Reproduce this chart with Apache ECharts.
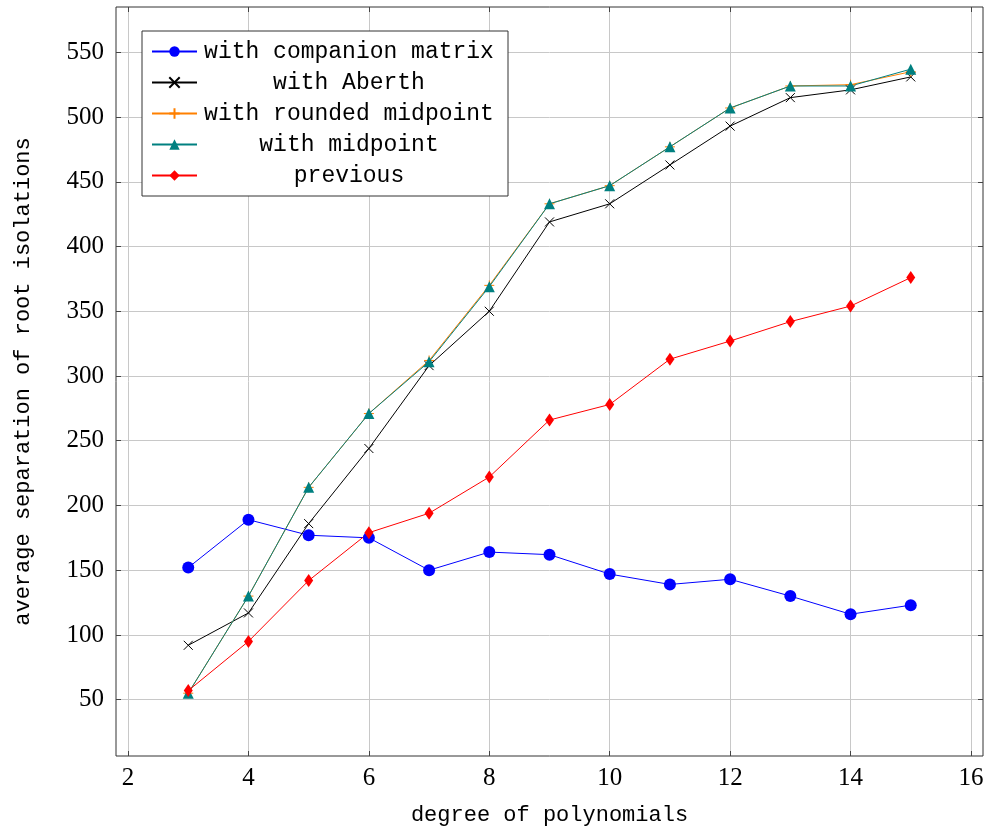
<!DOCTYPE html>
<html>
<head>
<meta charset="utf-8">
<script src="https://cdn.jsdelivr.net/npm/echarts@6/dist/echarts.min.js"></script>
<style>
  html, body { margin: 0; padding: 0; background: #fff; }
  #chart { width: 985px; height: 829px; }
</style>
</head>
<body>
<div id="chart"></div>
<script>
var degrees = [3, 4, 5, 6, 7, 8, 9, 10, 11, 12, 13, 14, 15];
var companion = [152, 189, 177, 175, 150, 164, 162, 147, 139, 143, 130, 116, 123];
var aberth = [92, 117, 186, 244, 308, 350, 419, 433, 463, 493, 515, 521, 531];
var roundedMid = [55, 130, 214, 271, 312, 370, 433, 447, 477, 507, 524, 525, 535];
var midpoint = [55, 130, 214, 271, 311, 369, 433, 447, 477, 507, 524, 524, 537];
var previous = [57, 95, 142, 179, 194, 222, 266, 278, 313, 327, 342, 354, 376];
var xTicks = [2, 4, 6, 8, 10, 12, 14, 16];
var yTicks = [50, 100, 150, 200, 250, 300, 350, 400, 450, 500, 550];

function pairs(vals) {
    return degrees.map(function (d, i) { return [d, vals[i]]; });
}

var chart = echarts.init(document.getElementById('chart'));
var mono = 'Liberation Mono';
var serif = 'Liberation Serif';

var tickCommon = { show: true, inside: true, length: 5, lineStyle: { color: '#444' } };
var gridLine = { show: true, lineStyle: { color: '#c8c8c8', width: 1 } };

var option = {
    animation: false,
    grid: {
        left: 116, right: 2, top: 7, bottom: 73,
        outerBoundsMode: 'none', containLabel: false,
        show: true, borderColor: '#333', borderWidth: 1
    },
    legend: {
        orient: 'vertical',
        left: 142,
        top: 31,
        padding: [9, 12, 9, 9],
        itemGap: 8,
        itemWidth: 45,
        itemHeight: 13,
        borderColor: '#333',
        borderWidth: 1,
        backgroundColor: '#fff',
        formatter: function (name) { return '{t|' + name + '}'; },
        textStyle: {
            fontFamily: mono, fontSize: 23, color: '#000',
            rich: { t: { width: 294, align: 'center', fontFamily: mono, fontSize: 23, lineHeight: 22 } }
        },
        data: ['with companion matrix', 'with Aberth', 'with rounded midpoint', 'with midpoint', 'previous']
    },
    xAxis: [{
        type: 'value', min: 1.8, max: 16.2,
        name: 'degree of polynomials', nameLocation: 'middle', nameGap: 48,
        nameTextStyle: { fontFamily: mono, fontSize: 22, color: '#000' },
        axisLine: { show: false },
        axisTick: Object.assign({ customValues: xTicks }, tickCommon),
        axisLabel: { customValues: xTicks, margin: 10, fontFamily: serif, fontSize: 25, color: '#000' },
        splitLine: gridLine
    }, {
        type: 'value', min: 1.8, max: 16.2, position: 'top',
        axisLine: { show: false },
        axisTick: Object.assign({ customValues: xTicks }, tickCommon),
        axisLabel: { show: false, customValues: xTicks },
        splitLine: { show: false }
    }],
    yAxis: [{
        type: 'value', min: 6.5, max: 585,
        name: 'average separation of root isolations', nameLocation: 'middle', nameGap: 82,
        nameTextStyle: { fontFamily: mono, fontSize: 22, color: '#000' },
        axisLine: { show: false },
        axisTick: Object.assign({ customValues: yTicks }, tickCommon),
        axisLabel: { customValues: yTicks, margin: 12, fontFamily: serif, fontSize: 25, color: '#000' },
        splitLine: gridLine
    }, {
        type: 'value', min: 6.5, max: 585, position: 'right',
        axisLine: { show: false },
        axisTick: Object.assign({ customValues: yTicks }, tickCommon),
        axisLabel: { show: false, customValues: yTicks },
        splitLine: { show: false }
    }],
    series: [{
        name: 'with companion matrix', type: 'line', data: pairs(companion),
        symbol: 'circle', symbolSize: 12,
        lineStyle: { color: '#0000ff', width: 1 },
        itemStyle: { color: '#0000ff' }
    }, {
        name: 'with Aberth', type: 'line', data: pairs(aberth),
        symbol: 'path://M0,0L10,10M10,0L0,10', symbolSize: 9,
        lineStyle: { color: '#000', width: 1 },
        itemStyle: { color: '#000', borderColor: '#000', borderWidth: 1 }
    }, {
        name: 'with rounded midpoint', type: 'line', data: pairs(roundedMid),
        symbol: 'path://M5,0L5,10M0,5L10,5', symbolSize: 10,
        lineStyle: { color: '#ff8000', width: 1 },
        itemStyle: { color: '#ff8000', borderColor: '#ff8000', borderWidth: 1 }
    }, {
        name: 'with midpoint', type: 'line', data: pairs(midpoint),
        symbol: 'triangle', symbolSize: 11,
        lineStyle: { color: '#008080', width: 1 },
        itemStyle: { color: '#008080' }
    }, {
        name: 'previous', type: 'line', data: pairs(previous),
        symbol: 'diamond', symbolSize: [9, 13],
        lineStyle: { color: '#ff0000', width: 1 },
        itemStyle: { color: '#ff0000' }
    }]
};
chart.setOption(option);
</script>
</body>
</html>
